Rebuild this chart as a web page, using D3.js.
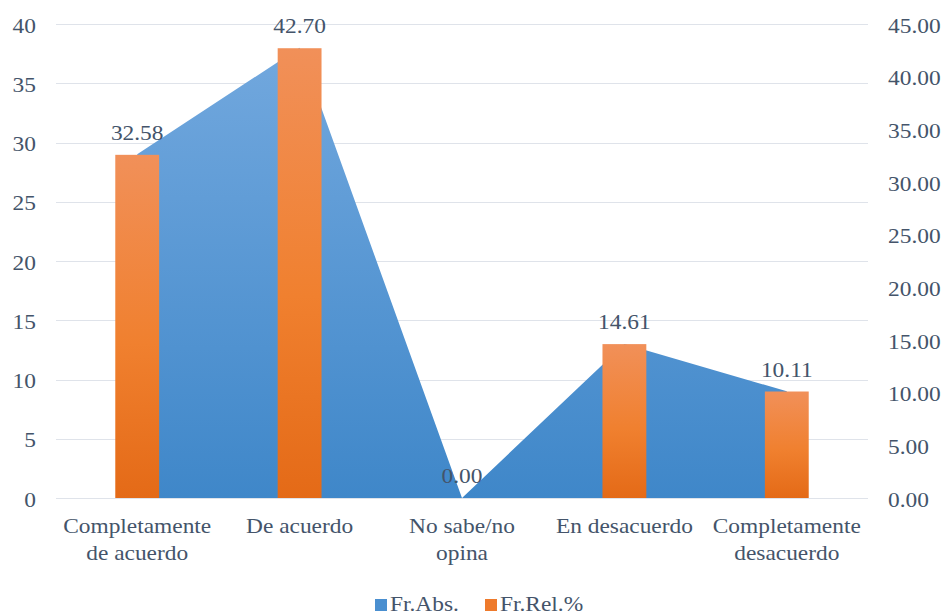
<!DOCTYPE html>
<html><head><meta charset="utf-8">
<script src="https://cdn.jsdelivr.net/npm/d3@7"></script>
<style>body{margin:0;background:#fff} text{font-family:"Liberation Serif","DejaVu Serif",serif;}</style>
</head><body>
<svg id="c" width="944" height="615"></svg>
<script>
const categories = [["Completamente","de acuerdo"],["De acuerdo"],["No sabe/no","opina"],["En desacuerdo"],["Completamente","desacuerdo"]];
const absValues = [29, 38, 0, 13, 9];
const relValues = [32.58, 42.70, 0.00, 14.61, 10.11];
const leftTicks = [0,5,10,15,20,25,30,35,40];
const rightTicks = [0,5,10,15,20,25,30,35,40,45];
const seriesNames = ["Fr.Abs.","Fr.Rel.%"];

const svg = d3.select("#c");
const W=944,H=615;
const m={l:56,r:76,t:24,b:117};
const x0=m.l, x1=W-m.r, y0=H-m.b, y1=m.t;
const txt="#44546a";
const SX=1.17;

const idx = d3.range(categories.length);
const x = d3.scaleBand().domain(idx).range([x0,x1]).paddingInner(0).paddingOuter(0);
const yL = d3.scaleLinear().domain([0,40]).range([y0,y1]);
const yR = d3.scaleLinear().domain([0,45]).range([y0,y1]);
const cx = i => x(i)+x.bandwidth()/2;

const defs = svg.append("defs");
const gb = defs.append("linearGradient").attr("id","gb").attr("x1",0).attr("y1",0).attr("x2",0).attr("y2",1);
gb.append("stop").attr("offset","0%").attr("stop-color","#72a8de");
gb.append("stop").attr("offset","100%").attr("stop-color","#3f87c9");
const go = defs.append("linearGradient").attr("id","go").attr("x1",0).attr("y1",0).attr("x2",0).attr("y2",1);
go.append("stop").attr("offset","0%").attr("stop-color","#f19059");
go.append("stop").attr("offset","55%").attr("stop-color","#f0802f");
go.append("stop").attr("offset","100%").attr("stop-color","#e46a17");

function label(g, px, py, s, anchor){
  return g.append("text").attr("transform",`translate(${px},${py}) scale(${SX},1)`)
    .attr("text-anchor",anchor||"middle").attr("font-size",20).attr("fill",txt).text(s);
}

// gridlines
svg.append("g").selectAll("line").data(leftTicks).join("line")
  .attr("x1",x0).attr("x2",x1).attr("y1",d=>Math.round(yL(d))+0.5).attr("y2",d=>Math.round(yL(d))+0.5)
  .attr("stroke","#dfe3ea").attr("stroke-width",1.2);

// area
const area = d3.area().x((d,i)=>cx(i)).y0(y0).y1(d=>yL(d));
svg.append("path").datum(absValues).attr("d",area).attr("fill","url(#gb)");

// bars
const bw = x.bandwidth()*0.27;
svg.append("g").selectAll("rect").data(relValues).join("rect")
  .attr("x",(d,i)=>cx(i)-bw/2).attr("width",bw)
  .attr("y",d=>yR(d)).attr("height",d=>y0-yR(d))
  .attr("fill","url(#go)");

const tg = svg.append("g");
relValues.forEach((d,i)=>label(tg, cx(i), yR(d)-15, d.toFixed(2)));
leftTicks.forEach(d=>label(tg, 36, yL(d)+8.5, String(d), "end"));
rightTicks.forEach(d=>label(tg, 888, yR(d)+8.5, d.toFixed(2), "start"));
categories.forEach((lines,i)=>lines.forEach((s,j)=>label(tg, cx(i), 533+27*j, s)));

// legend
const items=[{n:seriesNames[0],c:"#4a8fd0",x:375},{n:seriesNames[1],c:"#ee7a2c",x:485}];
items.forEach(it=>{
  svg.append("rect").attr("x",it.x).attr("y",599).attr("width",12).attr("height",12).attr("fill",it.c);
  label(svg, it.x+15, 611, it.n, "start");
});
</script>
</body></html>
